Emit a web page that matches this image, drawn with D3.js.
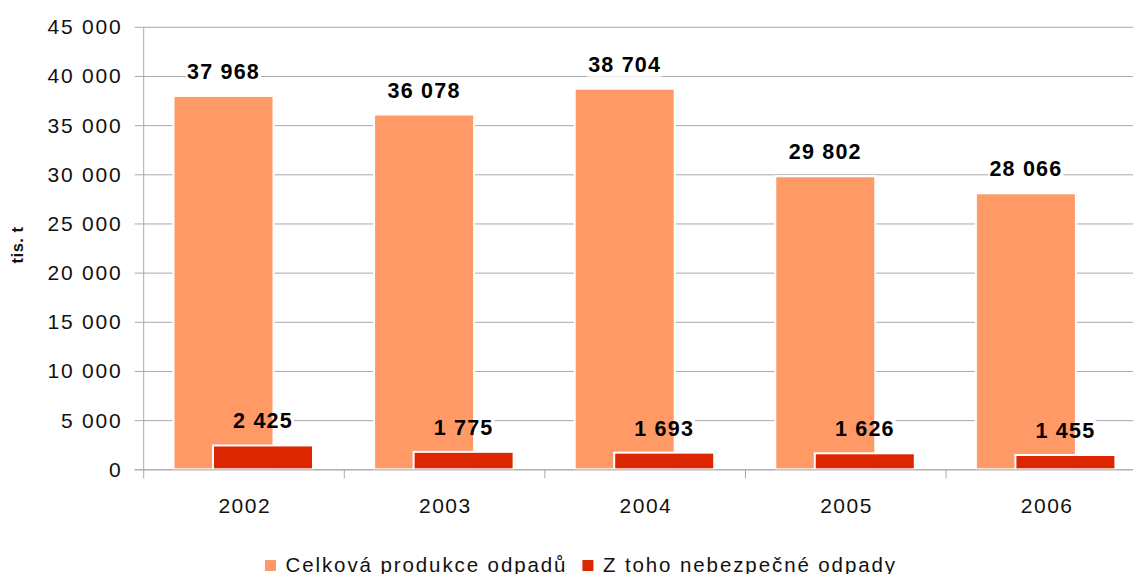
<!DOCTYPE html>
<html>
<head>
<meta charset="utf-8">
<script src="https://cdn.jsdelivr.net/npm/d3@7"></script>
<style>
  body { margin: 0; background: #fff; }
  text { font-family: "Liberation Sans", Arial, sans-serif; }
</style>
</head>
<body>
<svg width="1133" height="574"></svg>
<script>
// Chart data
var years = ["2002", "2003", "2004", "2005", "2006"];
var totalWaste = [37968, 36078, 38704, 29802, 28066];
var hazardousWaste = [2425, 1775, 1693, 1626, 1455];
var seriesNames = ["Celková produkce odpadů", "Z toho nebezpečné odpady"];
var yTicks = [0, 5000, 10000, 15000, 20000, 25000, 30000, 35000, 40000, 45000];
var yTitle = "tis. t";

var colors = ["#FF9966", "#DC2600"];
var gridColor = "#AAAAAA";

var svg = d3.select("svg"),
    width = +svg.attr("width"),
    height = +svg.attr("height");

var plotLeft = 143.7, plotRight = 1146.7, plotTop = 26.8, plotBottom = 469.3;
var barWidth = 100;

var x = d3.scaleBand().domain(years).range([plotLeft, plotRight]).padding(0);
var y = d3.scaleLinear().domain([0, 45000]).range([plotBottom, plotTop]);

// number format with space as thousands separator
var fmt = function (v) { return d3.format(",")(v).replace(/,/g, " "); };

// Gridlines (also act as left tick marks)
svg.append("g")
    .selectAll("line")
    .data(yTicks)
    .enter()
    .append("line")
    .attr("x1", plotLeft - 9)
    .attr("x2", width)
    .attr("y1", function (d) { return y(d) + 0.5; })
    .attr("y2", function (d) { return y(d) + 0.5; })
    .attr("stroke", gridColor)
    .attr("stroke-width", 1);

// Y tick labels
svg.append("g")
    .selectAll("text")
    .data(yTicks)
    .enter()
    .append("text")
    .attr("x", 122.5)
    .attr("y", function (d) { return y(d) + 7.5; })
    .attr("text-anchor", "end")
    .attr("font-size", "21px")
    .attr("letter-spacing", "1.8px")
    .attr("fill", "#111")
    .text(fmt);

// Y axis title
svg.append("text")
    .attr("transform", "translate(23, 245) rotate(-90)")
    .attr("text-anchor", "middle")
    .attr("font-size", "16.5px")
    .attr("font-weight", "bold")
    .attr("letter-spacing", "0.5px")
    .attr("fill", "#111")
    .text(yTitle);

// white boxes behind labels cut the gridlines; bars are drawn over them
var labelBg = svg.append("g");
var barsG = svg.append("g");

var series = [
    { values: totalWaste, offset: -20.5, color: colors[0] },
    { values: hazardousWaste, offset: 19, color: colors[1] }
];

series.forEach(function (s) {
    barsG.append("g")
        .selectAll("rect")
        .data(s.values)
        .enter()
        .append("rect")
        .attr("x", function (d, i) { return x(years[i]) + x.bandwidth() / 2 + s.offset - barWidth / 2; })
        .attr("y", function (d) { return y(d); })
        .attr("width", barWidth)
        .attr("height", function (d) { return y(0) - y(d); })
        .attr("fill", s.color)
        .attr("stroke", "#fff")
        .attr("stroke-width", 2);
});

// Axis lines
svg.append("line")
    .attr("x1", plotLeft).attr("x2", plotLeft)
    .attr("y1", plotTop).attr("y2", plotBottom + 9)
    .attr("stroke", gridColor);
svg.append("line")
    .attr("x1", plotLeft - 9).attr("x2", width)
    .attr("y1", plotBottom + 0.5).attr("y2", plotBottom + 0.5)
    .attr("stroke", gridColor);
svg.append("g")
    .selectAll("line")
    .data(years.slice(1))
    .enter()
    .append("line")
    .attr("x1", function (d) { return x(d); })
    .attr("x2", function (d) { return x(d); })
    .attr("y1", plotBottom)
    .attr("y2", plotBottom + 9)
    .attr("stroke", gridColor);

// X tick labels
svg.append("g")
    .selectAll("text")
    .data(years)
    .enter()
    .append("text")
    .attr("x", function (d) { return x(d) + x.bandwidth() / 2 + 0.75; })
    .attr("y", 513)
    .attr("text-anchor", "middle")
    .attr("font-size", "21px")
    .attr("letter-spacing", "1.5px")
    .attr("fill", "#111")
    .text(function (d) { return d; });

// Value labels
series.forEach(function (s) {
    svg.append("g")
        .selectAll("text")
        .data(s.values)
        .enter()
        .append("text")
        .attr("x", function (d, i) { return x(years[i]) + x.bandwidth() / 2 + s.offset; })
        .attr("y", function (d) { return y(d) - 17; })
        .attr("text-anchor", "middle")
        .attr("font-size", "21.5px")
        .attr("font-weight", "bold")
        .attr("letter-spacing", "1.2px")
        .attr("fill", "#000")
        .text(fmt)
        .each(function () {
            var b = this.getBBox();
            labelBg.append("rect")
                .attr("x", b.x - 1)
                .attr("y", b.y)
                .attr("width", b.width + 2)
                .attr("height", b.height)
                .attr("fill", "#fff");
        });
});

// Legend
var legend = svg.append("g");
var lx = 265;
seriesNames.forEach(function (name, i) {
    legend.append("rect")
        .attr("x", lx)
        .attr("y", 560)
        .attr("width", 11)
        .attr("height", 11)
        .attr("fill", colors[i]);
    var t = legend.append("text")
        .attr("x", lx + 20.5)
        .attr("y", 571.5)
        .attr("font-size", "20.5px")
        .attr("letter-spacing", "1.9px")
        .attr("fill", "#111")
        .text(name);
    lx += 20.5 + t.node().getComputedTextLength() + 15;
});
</script>
</body>
</html>
